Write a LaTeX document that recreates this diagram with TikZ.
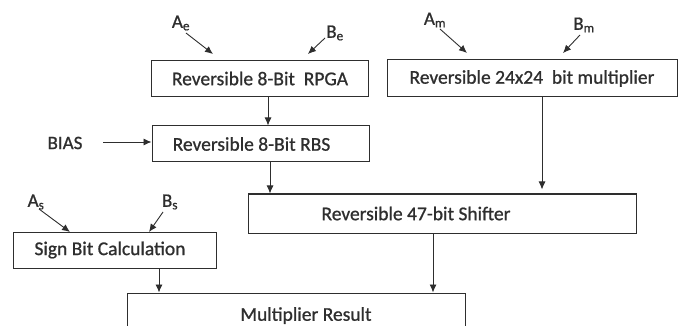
\documentclass[tikz,border=0pt]{standalone}
\usepackage{fontspec}
\setmainfont{Carlito}
\newfontfamily\heavyfont[FakeBold=0.9]{Carlito}
\usetikzlibrary{arrows.meta,calc}
\definecolor{ink}{HTML}{2E2E2E}
\tikzset{
  blockbox/.style={draw=ink, line width=1pt, rectangle, inner sep=0pt,
    text=ink, font=\heavyfont\fontsize{19.5}{22}\selectfont},
  inlabel/.style={text=ink, inner sep=0pt, font=\heavyfont\fontsize{19}{22}\selectfont},
  flow/.style={draw=ink, line width=0.9pt, -{Latex[length=8pt,width=7pt]}}
}
\begin{document}
\begin{tikzpicture}[x=1pt,y=1pt]
\useasboundingbox (0,0) rectangle (683,-326);
\clip (0,0) rectangle (683,-326);

% processing blocks
\node[blockbox, minimum width=217pt, minimum height=36pt] (rpga) at (260,-78.5) {Reversible 8-Bit\ \ RPGA};
\node[blockbox, minimum width=290pt, minimum height=37pt] (mult) at (532,-78.5) {Reversible 24x24\ \ bit multiplier};
\node[blockbox, minimum width=217pt, minimum height=36pt] (rbs) at (260.5,-144) {\hspace*{-18pt}Reversible 8-Bit RBS};
\node[blockbox, minimum width=388pt, minimum height=39pt] (shift) at (442,-213.5) {\hspace*{-52pt}Reversible 47-bit Shifter};
\node[blockbox, minimum width=203pt, minimum height=36pt] (sign) at (115,-250) {\hspace*{-10pt}Sign Bit Calculation};
\node[blockbox, minimum width=338pt, minimum height=46pt] (res) at (296,-316) {\raisebox{4pt}{\hspace*{20pt}Multiplier Result}};

% operand labels
\node[inlabel] (Ae) at (181,-23) {A\textsubscript{e}};
\node[inlabel] (Be) at (335,-33) {B\textsubscript{e}};
\node[inlabel] (Am) at (435,-20) {A\textsubscript{m}};
\node[inlabel] (Bm) at (584,-25) {B\textsubscript{m}};
\node[inlabel] (bias) at (65,-143) {BIAS};
\node[inlabel] (As) at (36,-202) {A\textsubscript{s}};
\node[inlabel] (Bs) at (170,-202) {B\textsubscript{s}};

% arrow starts and ends
\coordinate (AeStart) at (186,-33);  \coordinate (AeEnd) at (213,-54);
\coordinate (BeStart) at (325,-38);  \coordinate (BeEnd) at (308,-54);
\coordinate (AmStart) at (440,-29);  \coordinate (AmEnd) at (467,-53);
\coordinate (BmStart) at (580,-35);  \coordinate (BmEnd) at (563,-53);
\coordinate (AsStart) at (39,-209);  \coordinate (AsEnd) at (70,-232);
\coordinate (BsStart) at (163,-212); \coordinate (BsEnd) at (149,-232);
\coordinate (biasStart) at (103,-142);

% inputs
\draw[flow] (AeStart) -- (AeEnd);
\draw[flow] (BeStart) -- (BeEnd);
\draw[flow] (AmStart) -- (AmEnd);
\draw[flow] (BmStart) -- (BmEnd);
\draw[flow] (AsStart) -- (AsEnd);
\draw[flow] (BsStart) -- (BsEnd);
\draw[flow] (biasStart) -- (rbs.west |- biasStart);

% data flow between blocks
\draw[flow] (rpga.south -| 268,0) -- (rbs.north -| 268,0);
\draw[flow] (rbs.south -| 270,0) -- (shift.north -| 270,0);
\draw[flow] (mult.south -| 542,0) -- ($(shift.north -| 542,0)+(0,4)$);
\draw[flow] (sign.south -| 159,0) -- (res.north -| 159,0);
\draw[flow] (shift.south -| 433,0) -- (res.north -| 433,0);
\end{tikzpicture}
\end{document}
